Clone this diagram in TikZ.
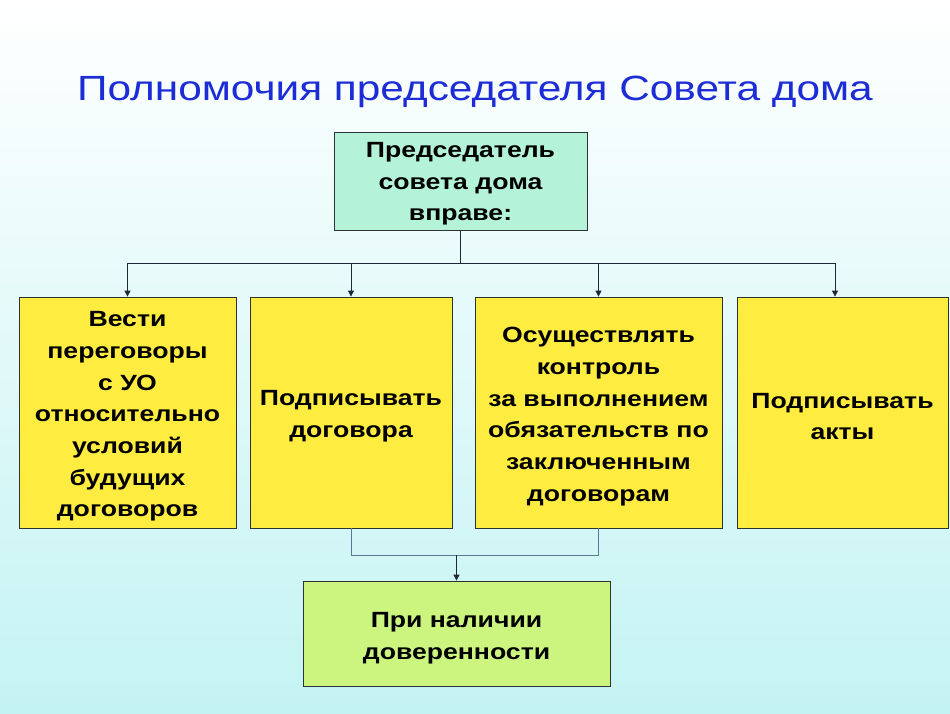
\documentclass[tikz,border=0pt]{standalone}
\usepackage{fontspec}
\setmainfont{Liberation Sans}[FakeStretch=1.21]
\usetikzlibrary{arrows.meta}
\definecolor{titleblue}{RGB}{28,44,214}
\definecolor{mint}{RGB}{180,243,216}
\definecolor{boxyellow}{RGB}{255,236,64}
\definecolor{boxgreen}{RGB}{204,245,128}
\definecolor{bgbottom}{RGB}{196,243,243}
\definecolor{bgmid}{RGB}{228,249,249}
\definecolor{boxline}{RGB}{45,50,50}
\definecolor{connline}{RGB}{30,40,55}
\definecolor{bracketline}{RGB}{90,120,150}
\begin{document}
\begin{tikzpicture}[x=1pt,y=-1pt,
  boxframe/.style={draw=boxline, line width=0.8pt, inner sep=0pt},
  boxtext/.style={inner sep=0pt, align=center,
    font=\fontsize{22}{31.7}\selectfont\bfseries},
  conn/.style={draw=connline, line width=0.9pt},
  arr/.style={conn, -{Triangle[length=6pt,width=6pt]}},
  bracket/.style={draw=bracketline, line width=0.9pt}]
\shade[top color=white, middle color=bgmid, bottom color=bgbottom] (0,0) rectangle (950,713);
\useasboundingbox (0,0) rectangle (950,713);
\node[text=titleblue, anchor=base, font=\fontsize{35}{40}\selectfont] (title) at (475,100) {Полномочия председателя Совета дома};
% boxes
\node[boxframe, fill=mint, minimum width=253pt, minimum height=98pt] (top) at (460.5,181) {};
\node[boxframe, fill=boxyellow, minimum width=217pt, minimum height=231pt] (b1) at (127.5,412.5) {};
\node[boxframe, fill=boxyellow, minimum width=202pt, minimum height=231pt] (b2) at (351,412.5) {};
\node[boxframe, fill=boxyellow, minimum width=247pt, minimum height=231pt] (b3) at (598.5,412.5) {};
\node[boxframe, fill=boxyellow, minimum width=211pt, minimum height=231pt] (b4) at (842.5,412.5) {};
\node[boxframe, fill=boxgreen, minimum width=307pt, minimum height=105pt] (bot) at (456.5,633.5) {};
% texts
\node[boxtext] (topt) at ([yshift=-3pt]top.center) {Председатель\\совета дома\\вправе:};
\node[boxtext] (b1t) at ([yshift=-4pt]b1.center) {Вести\\переговоры\\с УО\\относительно\\условий\\будущих\\договоров};
\node[boxtext] (b2t) at ([yshift=-4pt]b2.center) {Подписывать\\договора};
\node[boxtext] (b3t) at ([yshift=-4pt]b3.center) {Осуществлять\\контроль\\за выполнением\\обязательств по\\заключенным\\договорам};
\node[boxtext] (b4t) at ([yshift=-4pt]b4.center) {Подписывать\\акты};
\node[boxtext] (bott) at ([yshift=-5pt]bot.center) {При наличии\\доверенности};
% connectors
\coordinate (busL) at (127.5,263);
\coordinate (busR) at (835,263);
\coordinate (brk) at (351,555);
\draw[conn] (top.south) -- (top.south |- busL);
\draw[conn] (busL) -- (busR);
\draw[arr] (busL) -- (b1.north);
\draw[arr] (b2.north |- busL) -- (b2.north);
\draw[arr] (b3.north |- busL) -- (b3.north);
\draw[arr] (busR) -- (busR |- b4.north);
\draw[bracket] (b2.south) -- (b2.south |- brk) -- (b3.south |- brk) -- (b3.south);
\draw[arr] (bot.north |- brk) -- (bot.north);
\end{tikzpicture}
\end{document}
